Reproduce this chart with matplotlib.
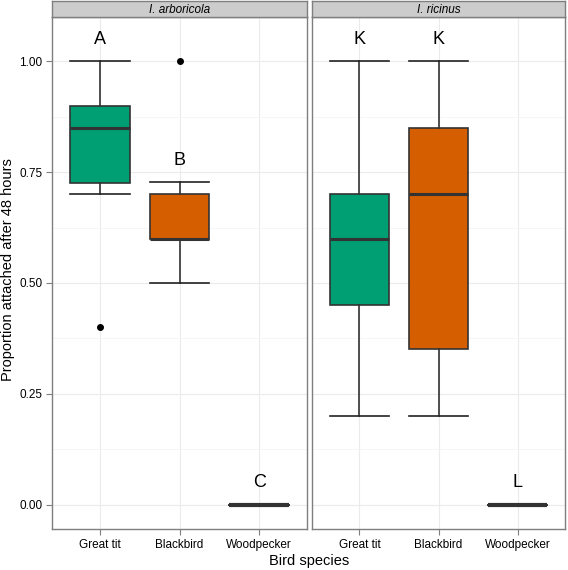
import matplotlib.pyplot as plt

plt.rcParams['font.family'] = ['Liberation Sans', 'DejaVu Sans']

species = ['I. arboricola', 'I. ricinus']
birds = ['Great tit', 'Blackbird', 'Woodpecker']
colors = ['#009E73', '#D55E00', '#56B4E9']

# box stats per panel: whislo, q1, med, q3, whishi, outliers
arb_whislo = [0.70, 0.50, 0.0]
arb_q1 = [0.725, 0.60, 0.0]
arb_med = [0.85, 0.60, 0.0]
arb_q3 = [0.90, 0.70, 0.0]
arb_whishi = [1.00, 0.727, 0.0]
arb_fliers = [[0.40], [1.00], []]
arb_letters = ['A', 'B', 'C']

ric_whislo = [0.20, 0.20, 0.0]
ric_q1 = [0.45, 0.35, 0.0]
ric_med = [0.60, 0.70, 0.0]
ric_q3 = [0.70, 0.85, 0.0]
ric_whishi = [1.00, 1.00, 0.0]
ric_fliers = [[], [], []]
ric_letters = ['K', 'K', 'L']

panels = [
    (arb_whislo, arb_q1, arb_med, arb_q3, arb_whishi, arb_fliers, arb_letters),
    (ric_whislo, ric_q1, ric_med, ric_q3, ric_whishi, ric_fliers, ric_letters),
]

W, H = 568, 570
fig = plt.figure(figsize=(W / 100, H / 100), dpi=100)

panel_x = [(52, 307), (312, 565)]
top, bottom = 17, 529
strip_top = 1

for i, (x0, x1) in enumerate(panel_x):
    ax = fig.add_axes([x0 / W, 1 - bottom / H, (x1 - x0) / W, (bottom - top) / H])
    wlo, q1, med, q3, whi, fl, letters = panels[i]
    stats = []
    for j in range(3):
        stats.append(dict(whislo=wlo[j], q1=q1[j], med=med[j], q3=q3[j],
                          whishi=whi[j], fliers=fl[j]))
    bp = ax.bxp(stats, positions=[1, 2, 3], widths=0.75, patch_artist=True,
                showcaps=True,
                boxprops=dict(edgecolor='#333333', linewidth=1.2),
                medianprops=dict(color='#333333', linewidth=2.2),
                whiskerprops=dict(color='#333333', linewidth=1.2),
                capprops=dict(color='#222222', linewidth=1.2),
                flierprops=dict(marker='o', markerfacecolor='black',
                                markeredgecolor='black', markersize=4))
    for j, b in enumerate(bp['boxes']):
        b.set_facecolor(colors[j])
    for j, m in enumerate(bp['medians']):
        if q1[j] == q3[j]:
            m.set_linewidth(3)
    for j, c in enumerate(bp['caps']):
        k = j // 2
        c.set_xdata([k + 1 - 0.375, k + 1 + 0.375])
    for j in range(3):
        ax.text(j + 1, whi[j] + 0.05, letters[j], ha='center', va='center',
                fontsize=13)

    ax.set_xlim(0.4, 3.6)
    ax.set_ylim(-0.055, 1.1)
    ax.set_yticks([0, 0.25, 0.5, 0.75, 1.0])
    ax.set_yticks([0.125, 0.375, 0.625, 0.875], minor=True)
    ax.set_xticks([1, 2, 3])
    ax.set_xticklabels(birds)
    ax.grid(True, which='major', color='#EBEBEB', linewidth=0.8)
    ax.grid(True, which='minor', axis='y', color='#F5F5F5', linewidth=0.6)
    ax.set_axisbelow(True)
    for s in ax.spines.values():
        s.set_color('#7F7F7F')
        s.set_linewidth(1)
    ax.tick_params(which='major', length=4, color='#7F7F7F', labelsize=8.5,
                   labelcolor='black', pad=3)
    ax.tick_params(which='minor', length=0)
    if i == 0:
        ax.set_yticklabels(['0.00', '0.25', '0.50', '0.75', '1.00'])
    else:
        ax.tick_params(axis='y', which='both', left=False, labelleft=False)

    sx = fig.add_axes([x0 / W, 1 - top / H, (x1 - x0) / W, (top - strip_top) / H])
    sx.set_xticks([])
    sx.set_yticks([])
    sx.set_facecolor('#CCCCCC')
    for s in sx.spines.values():
        s.set_color('#7F7F7F')
        s.set_linewidth(1)
    sx.text(0.5, 0.45, species[i], ha='center', va='center', fontsize=8.5,
            style='italic', transform=sx.transAxes)

fig.text(309 / W, 1 - 561 / H, 'Bird species', ha='center', va='center',
         fontsize=10.5)
fig.text(8 / W, 1 - 270 / H, 'Proportion attached after 48 hours',
         ha='center', va='center', rotation=90, fontsize=10.5)

fig.savefig('out.png', dpi=100)
